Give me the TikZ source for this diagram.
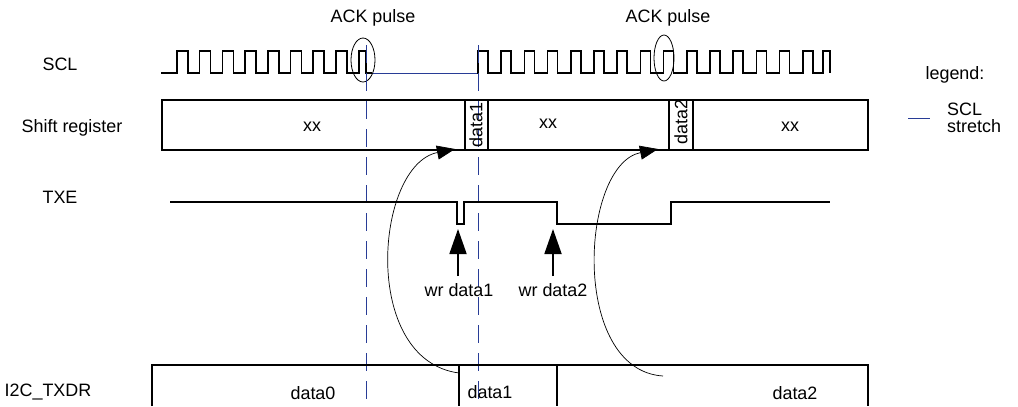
\documentclass[tikz,border=0pt]{standalone}
\usepackage{fontspec}
\setmainfont{Liberation Sans}
\usetikzlibrary{arrows.meta}
\definecolor{dblue}{RGB}{40,60,150}
\begin{document}
\begin{tikzpicture}[x=1bp,y=-1bp,font=\fontsize{18}{20}\selectfont,
  sig/.style={line width=1.6pt,line join=miter},
  vdash/.style={dblue,dash pattern=on 18bp off 10bp,line width=0.9pt},
  bigarr/.style={-{Triangle[length=25bp,width=17bp]},line width=1.8pt},
  curv/.style={-{Triangle[length=18bp,width=14bp]},line width=0.7pt},
  lbl/.style={inner sep=1pt}]
\useasboundingbox (0,0) rectangle (1018,406);
% labels
\node[lbl] (lscl) at (60,64) {SCL};
\node[lbl] (lsr) at (72,128) {Shift register};
\node[lbl] (ltxe) at (60,197) {TXE};
\node[lbl] (ltxdr) at (48,392) {I2C\_TXDR};
\node[lbl] (ack1) at (373,18) {ACK pulse};
\node[lbl] (ack2) at (668,18) {ACK pulse};
% SCL
\draw[sig] (161,73)
  foreach \i in {0,...,7} { -- ({177+22.7*\i},73) -- ({177+22.7*\i},51) -- ({188+22.7*\i},51) -- ({188+22.7*\i},73) }
  -- (359,73) -- (359,51) -- (366,51) -- (366,73) -- (372,73);
\draw[dblue,line width=1pt] (372,73) -- (477,73);
\draw[sig] (477,73)
  foreach \i in {0,...,14} { -- ({478+23.2*\i},73) -- ({478+23.2*\i},51) -- ({488+23.2*\i},51) -- ({488+23.2*\i},73) }
  -- (823,73) -- (823,51) -- (830,51) -- (830,73);
\draw[line width=0.8pt] (363,60) ellipse [x radius=12,y radius=22];
\draw[line width=0.8pt] (664,58) ellipse [x radius=10,y radius=23];
% dashed
\coordinate (d1t) at (366,45); \coordinate (d1b) at (366,406);
\coordinate (d2t) at (478,45); \coordinate (d2b) at (478,406);
\draw[vdash] (d1t) -- (d1b);
\draw[vdash] (d2t) -- (d2b);
% shift register
\draw[line width=1.6pt] (162,100) rectangle (868,150);
\draw[line width=1.3pt] (465,100) -- (465,150) (488,100) -- (488,150) (669,100) -- (669,150) (693,100) -- (693,150);
\node[lbl] (x1) at (312,127) {xx};
\node[lbl] (x2) at (548,124) {xx};
\node[lbl] (x3) at (790,127) {xx};
\node[lbl,rotate=90] (sd1) at (476,125) {data1};
\node[lbl,rotate=90] (sd2) at (681,122) {data2};
% TXE
\draw[sig] (170,202) -- (457,202) -- (457,224) -- (464,224) -- (464,202) -- (557,202) -- (557,224) -- (671,224) -- (671,202) -- (830,202);
\node[lbl] (w1) at (459,290) {wr data1};
\node[lbl] (w2) at (553,290) {wr data2};
\draw[bigarr] (458,276) -- (458,229);
\draw[bigarr] (553,276) -- (553,229);
% TXDR
\draw[line width=1.6pt] (152,406) -- (152,365) -- (868,365) -- (868,406);
\draw[line width=1.6pt] (459,365) -- (459,406) (557,365) -- (557,406);
\node[lbl] (t0) at (313,393) {data0};
\node[lbl] (t1) at (490,392) {data1};
\node[lbl] (t2) at (795,393) {data2};
% curved arrows
\coordinate (c1s) at (459,373); \coordinate (c1e) at (455,149);
\coordinate (c2s) at (663,376); \coordinate (c2e) at (658,149);
\draw[curv] (c1s) .. controls (360,360) and (375,165) .. (c1e);
\draw[curv] (c2s) .. controls (570,370) and (580,165) .. (c2e);
% legend
\node[lbl] (leg) at (955,75) {legend:};
\draw[dblue,line width=1pt] (908,118) -- (930,118);
\node[lbl,align=left,anchor=west] (legt) at (946,118) {SCL\\[-3pt]stretch};
\end{tikzpicture}
\end{document}
